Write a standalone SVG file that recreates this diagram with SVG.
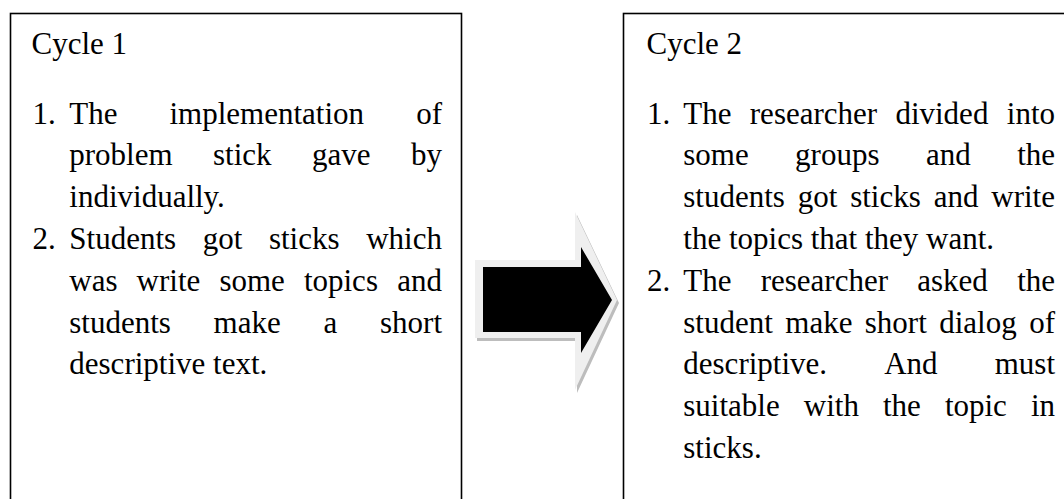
<svg xmlns="http://www.w3.org/2000/svg" width="1064" height="499" viewBox="0 0 1064 499">
<style>
.box{fill:#fff;stroke:#000;stroke-width:1.6}
text{font-family:"Liberation Serif","Times New Roman",serif;font-size:31px;fill:#000}
.e{text-anchor:end}
</style>
<rect width="1064" height="499" fill="#fff"/>
<g id="connectors">
  <polygon points="477,263 577,263 577,215 619,303 577,393 577,341 477,341" fill="#bdbdbd"/>
  <polygon points="475,260 575,260 575,212 617,300 575,390 575,338 475,338" fill="#efefef"/>
  <polygon points="483,267 581,267 581,247 612,300 581,353 581,332 483,332" fill="#000"/>
</g>
<g id="cycle1">
  <rect class="box" x="10.5" y="13.5" width="451" height="600"/>
  <text x="31.5" y="54">Cycle 1</text>
  <text x="32.5" y="123.5">1.</text>
  <text x="69.3" y="123.5">The</text><text x="169.5" y="123.5">implementation</text><text class="e" x="442" y="123.5">of</text>
  <text x="69.3" y="165.3">problem</text><text x="213" y="165.3">stick</text><text x="312" y="165.3">gave</text><text class="e" x="442" y="165.3">by</text>
  <text x="69.3" y="207.1">individually.</text>
  <text x="32.5" y="248.9">2.</text>
  <text x="69.3" y="248.9">Students</text><text x="202.7" y="248.9">got</text><text x="268.9" y="248.9">sticks</text><text class="e" x="442" y="248.9">which</text>
  <text x="69.3" y="290.7">was</text><text x="136.6" y="290.7">write</text><text x="219.4" y="290.7">some</text><text x="303.9" y="290.7">topics</text><text class="e" x="442" y="290.7">and</text>
  <text x="69.3" y="332.5">students</text><text x="213.6" y="332.5">make</text><text x="323.4" y="332.5">a</text><text class="e" x="442" y="332.5">short</text>
  <text x="69.3" y="374.3">descriptive text.</text>
</g>
<g id="cycle2">
  <rect class="box" x="623.5" y="13.5" width="500" height="600"/>
  <text x="646.5" y="54">Cycle 2</text>
  <text x="647" y="123.5">1.</text>
  <text x="683.3" y="123.5">The</text><text x="749.8" y="123.5">researcher</text><text x="895.4" y="123.5">divided</text><text class="e" x="1055" y="123.5">into</text>
  <text x="683.3" y="165.3">some</text><text x="795.1" y="165.3">groups</text><text x="925.9" y="165.3">and</text><text class="e" x="1055" y="165.3">the</text>
  <text x="683.3" y="207.1">students</text><text x="797.8" y="207.1">got</text><text x="850.2" y="207.1">sticks</text><text x="933.7" y="207.1">and</text><text class="e" x="1055" y="207.1">write</text>
  <text x="683.3" y="248.9">the topics that they want.</text>
  <text x="647" y="290.7">2.</text>
  <text x="683.3" y="290.7">The</text><text x="760.7" y="290.7">researcher</text><text x="917.2" y="290.7">asked</text><text class="e" x="1055" y="290.7">the</text>
  <text x="683.3" y="332.5">student</text><text x="785.3" y="332.5">make</text><text x="864.8" y="332.5">short</text><text x="939.2" y="332.5">dialog</text><text class="e" x="1055" y="332.5">of</text>
  <text x="683.3" y="374.3">descriptive.</text><text x="884.2" y="374.3">And</text><text class="e" x="1055" y="374.3">must</text>
  <text x="683.3" y="416.1">suitable</text><text x="803.8" y="416.1">with</text><text x="882.9" y="416.1">the</text><text x="944.9" y="416.1">topic</text><text class="e" x="1055" y="416.1">in</text>
  <text x="683.3" y="457.9">sticks.</text>
</g>
</svg>
